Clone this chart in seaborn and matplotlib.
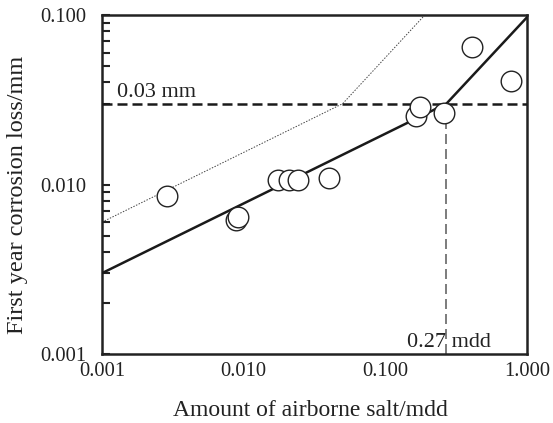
import numpy as np
import pandas as pd
import matplotlib
matplotlib.use("Agg")
from matplotlib import pyplot as plt
from matplotlib.ticker import FixedLocator, NullLocator, NullFormatter
import seaborn as sns

# measured points
salt = [0.0029, 0.0089, 0.0091, 0.0174, 0.0209, 0.0240, 0.0402, 0.164, 0.175, 0.261, 0.406, 0.77]
loss = [0.0086, 0.0062, 0.0064, 0.0106, 0.0107, 0.0106, 0.0109, 0.0254, 0.0285, 0.0263, 0.065, 0.0408]

# fitted line (solid) and upper bound (dotted)
fit_x = [0.001, 0.27, 1.0]
fit_y = [0.003, 0.03, 0.097]
upper_x = [0.001, 0.05, 0.19]
upper_y = [0.006, 0.03, 0.1]

limit_loss = 0.03
limit_salt = 0.27

xticks = [0.001, 0.01, 0.1, 1.0]
xlabels = ["0.001", "0.010", "0.100", "1.000"]
yticks = [0.001, 0.01, 0.1]
ylabels = ["0.001", "0.010", "0.100"]
# minor ticks as seen on the left axis (no 0.02 mark in the original)
yminor = [0.002, 0.003, 0.004, 0.005, 0.006, 0.007, 0.008, 0.009,
          0.03, 0.04, 0.05, 0.06, 0.07, 0.08, 0.09]

sns.set_theme(style="white")
plt.rcParams['font.family'] = ['Liberation Serif', 'DejaVu Serif']

fig = plt.figure(figsize=(5.53, 4.23), dpi=100)
ax = fig.add_axes([0.1844, 0.163, 0.7686, 0.8015])

pts = pd.DataFrame({"salt": salt, "loss": loss})
fit = pd.DataFrame({"x": fit_x, "y": fit_y})
upper = pd.DataFrame({"x": upper_x, "y": upper_y})

sns.lineplot(data=upper, x="x", y="y", ax=ax, color="#444444", lw=0.7,
             linestyle=(0, (1.5, 1.5)), estimator=None, sort=False, zorder=2)
sns.lineplot(data=fit, x="x", y="y", ax=ax, color="#1a1a1a", lw=1.8,
             estimator=None, sort=False, zorder=3)
ax.axhline(limit_loss, color="#1a1a1a", lw=1.8, linestyle=(0, (4, 2)), zorder=3)
ax.plot([limit_salt, limit_salt], [0.001, limit_loss], color="#666666", lw=1.2,
        linestyle=(0, (6, 3)), zorder=2)
sns.scatterplot(data=pts, x="salt", y="loss", ax=ax, s=220, color="white",
                edgecolor="#222222", linewidth=1.0, zorder=4)

ax.set_xscale("log")
ax.set_yscale("log")
ax.set_xlim(0.001, 1.0)
ax.set_ylim(0.001, 0.1)

ax.xaxis.set_major_locator(FixedLocator(xticks))
ax.set_xticklabels(xlabels)
ax.xaxis.set_minor_locator(NullLocator())
ax.yaxis.set_major_locator(FixedLocator(yticks))
ax.set_yticklabels(ylabels)
ax.yaxis.set_minor_locator(FixedLocator(yminor))
ax.yaxis.set_minor_formatter(NullFormatter())

ax.tick_params(axis="both", which="both", direction="in", colors="#222222",
               labelcolor="#222222", labelsize=14.8)
ax.tick_params(axis="x", which="major", length=6, width=0.8, pad=6)
ax.tick_params(axis="y", which="major", length=5.5, width=1.5, left=True, pad=11)
ax.tick_params(axis="y", which="minor", length=5.5, width=1.5, left=True)

for sp in ax.spines.values():
    sp.set_color("#222222")
    sp.set_linewidth(1.8)

ax.text(0.00128, 0.0328, "0.03 mm", fontsize=16, color="#222222")
ax.text(0.142, 0.0011, "0.27 mdd", fontsize=16, color="#222222")

ax.set_xlabel("Amount of airborne salt/mdd", fontsize=17, color="#222222")
ax.set_ylabel("First year corrosion loss/mm", fontsize=17.5, color="#222222")
ax.xaxis.set_label_coords(0.49, -0.135)
ax.yaxis.set_label_coords(-0.174, 0.47)

fig.savefig("out.png", dpi=100)
